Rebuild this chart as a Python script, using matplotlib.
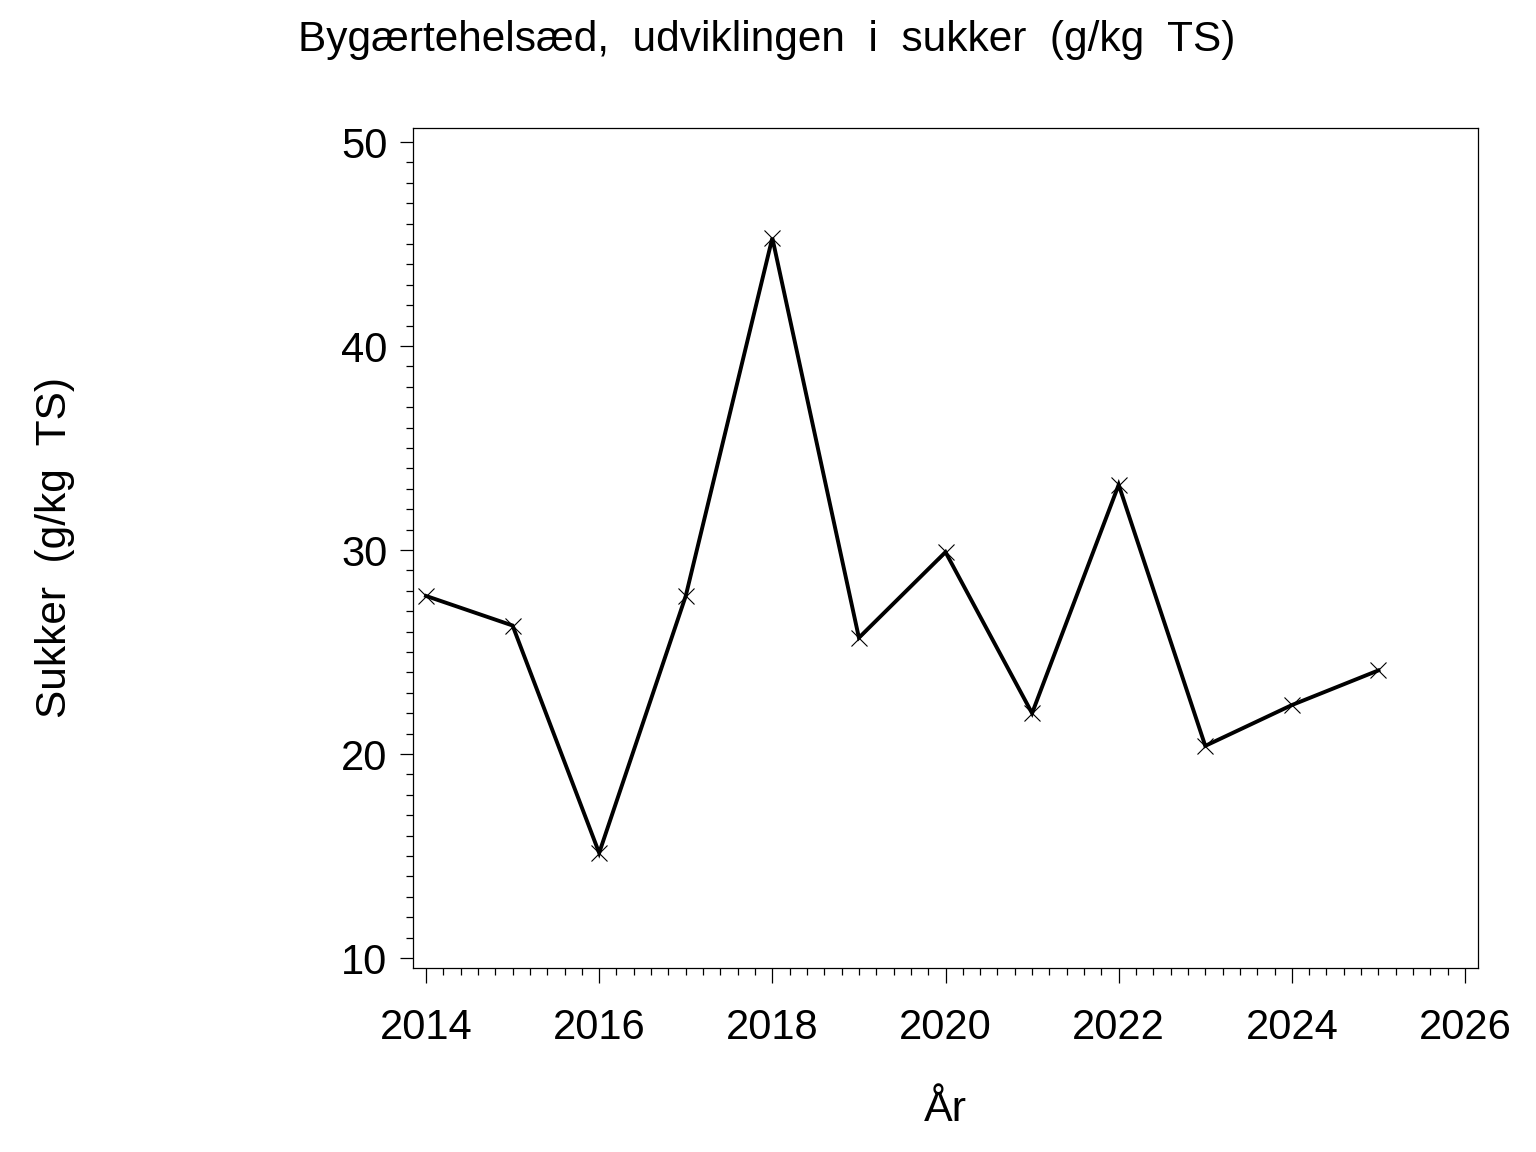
import matplotlib
matplotlib.use("Agg")
import matplotlib.pyplot as plt
from matplotlib.ticker import MultipleLocator

years = [2014, 2015, 2016, 2017, 2018, 2019, 2020, 2021, 2022, 2023, 2024, 2025]
sukker = [27.75, 26.3, 15.15, 27.75, 45.3, 25.7, 29.9, 22.0, 33.2, 20.4, 22.4, 24.1]

title = "Bygærtehelsæd,  udviklingen  i  sukker  (g/kg  TS)"
ylabel = "Sukker  (g/kg  TS)"
xlabel = "År"

plt.rcParams['font.family'] = ['Liberation Sans', 'DejaVu Sans']

fig = plt.figure(figsize=(15.36, 11.52), dpi=100)
ax = fig.add_axes([413/1536, 1-968/1152, (1478-413)/1536, (968-128)/1152])

ax.plot(years, sukker, color='black', linewidth=2.8, marker='x',
        markersize=11.5, markeredgewidth=0.8, solid_joinstyle='miter')

ax.set_xlim(2013.85, 2026.15)
ax.set_ylim(9.51, 50.69)
ax.xaxis.set_major_locator(MultipleLocator(2))
ax.xaxis.set_minor_locator(MultipleLocator(0.2))
ax.yaxis.set_major_locator(MultipleLocator(10))
ax.yaxis.set_minor_locator(MultipleLocator(1))

for s in ax.spines.values():
    s.set_linewidth(0.9)

ax.tick_params(axis='x', which='major', length=11, width=0.9, pad=18, labelsize=30)
ax.tick_params(axis='x', which='minor', length=5, width=0.9)
ax.tick_params(axis='y', which='major', length=9.5, width=0.9, pad=9, labelsize=30)
ax.tick_params(axis='y', which='minor', length=5, width=0.9)

fig.text(767/1536, 1-40/1152, title, ha='center', va='center', fontsize=30.5)
fig.text(55/1536, 1-548/1152, ylabel, ha='center', va='center', rotation=90, fontsize=30.5)
fig.text(945/1536, 1-1110/1152, xlabel, ha='center', va='center', fontsize=31)

fig.savefig("out.png", dpi=100)
